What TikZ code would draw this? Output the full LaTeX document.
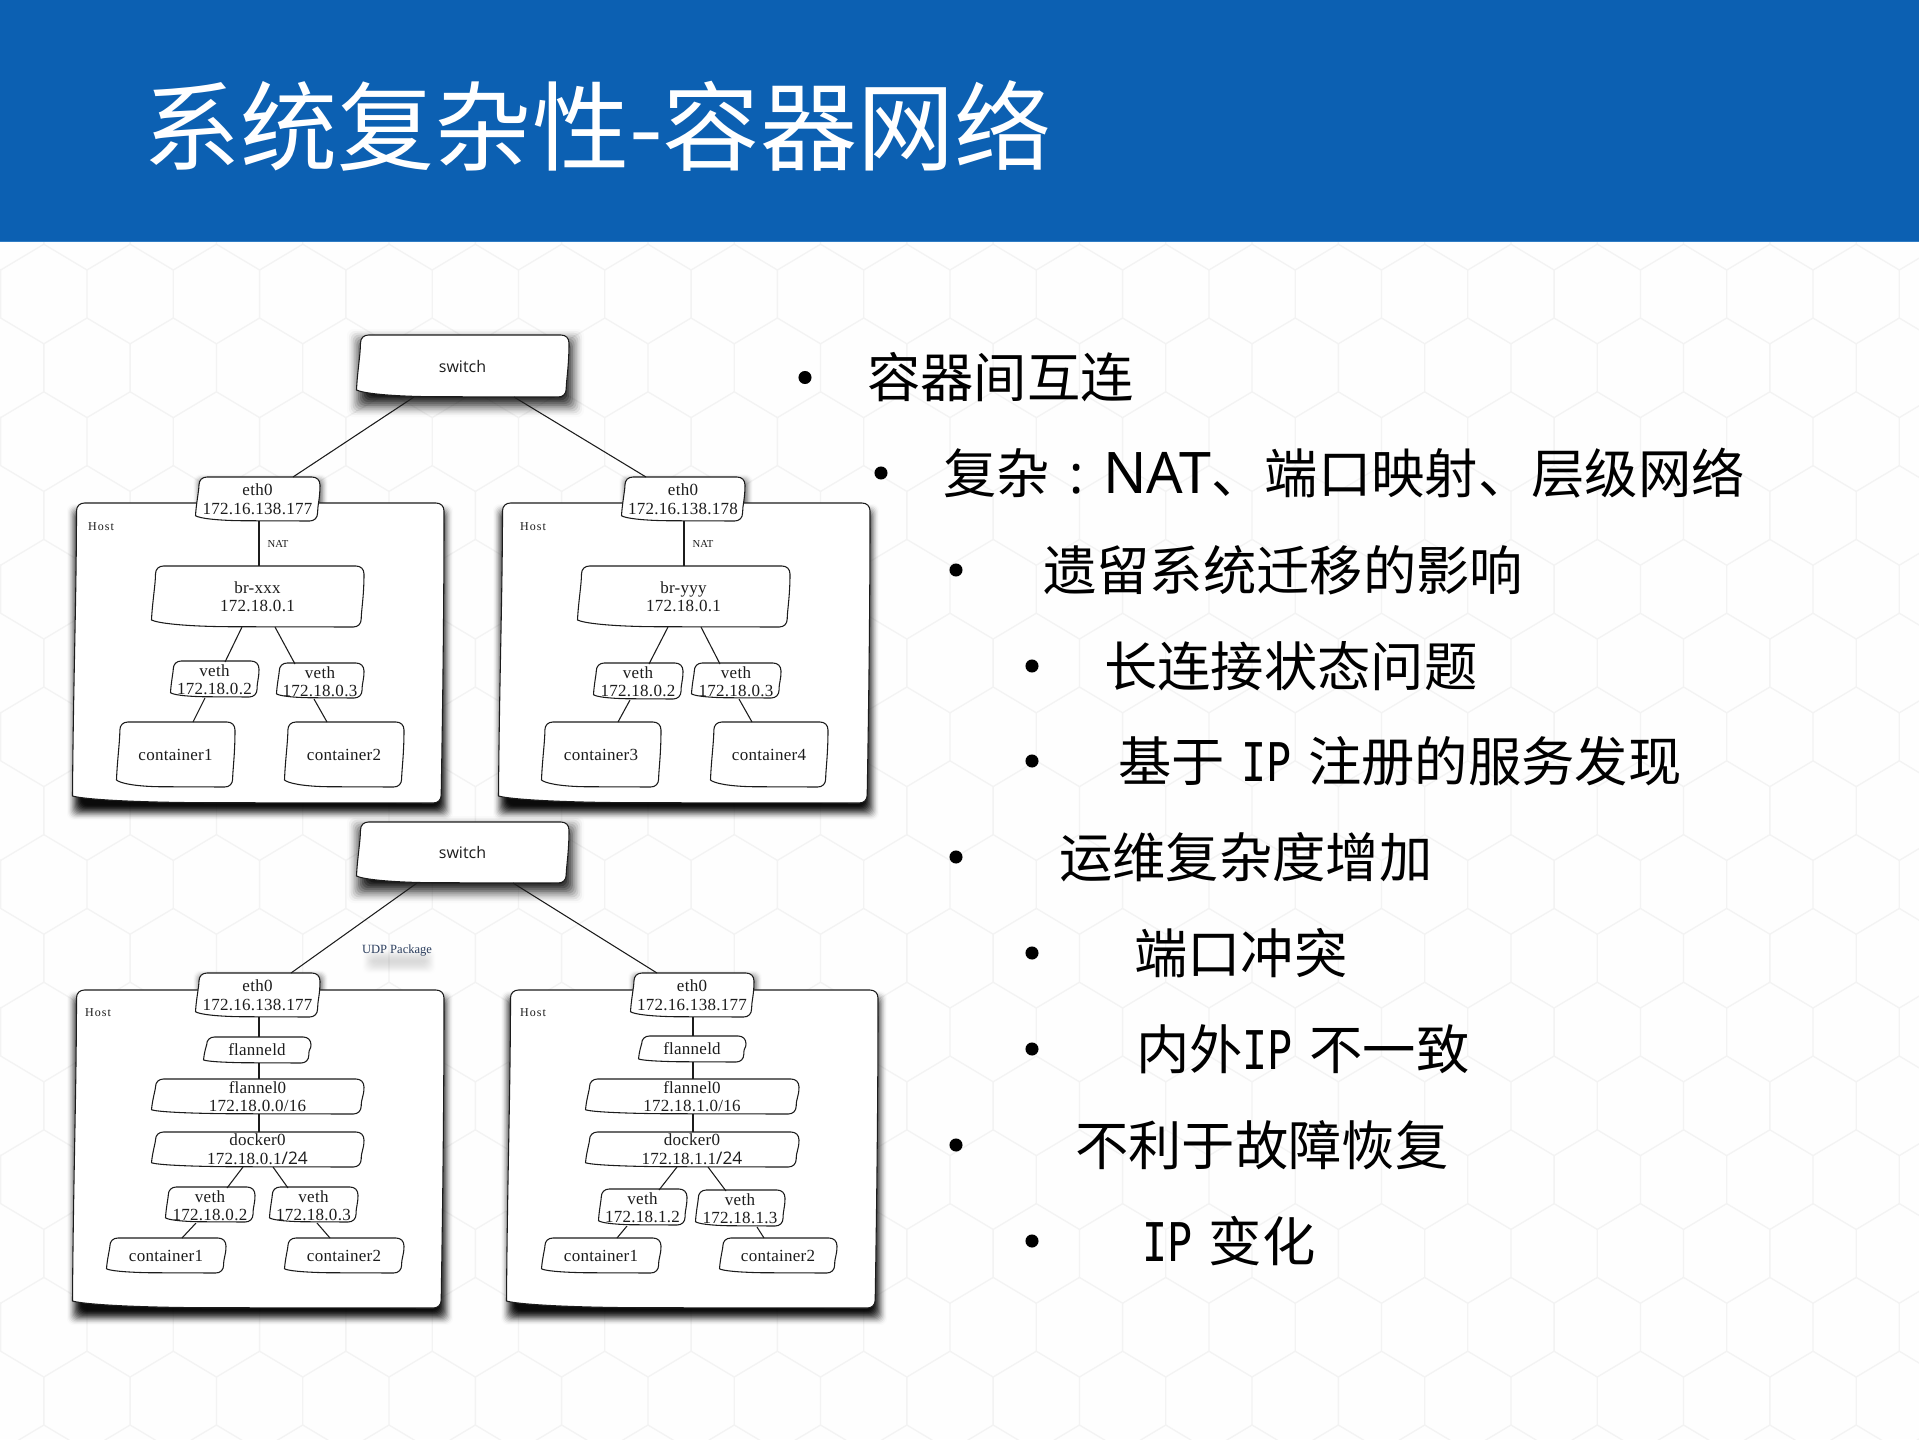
\documentclass[tikz,border=0pt]{standalone}
\usepackage{fontspec}
\usepackage{xcolor}
\setmainfont{Noto Sans CJK SC}
\newfontfamily\dgmf[LetterSpace=1.5]{Liberation Serif}
\newfontfamily\hostf[LetterSpace=9]{Liberation Serif}
\newfontfamily\natf{Liberation Serif}
\newfontfamily\swf{Open Sans}
\newfontfamily\latf{Noto Sans}
\newfontfamily\ipf[FakeStretch=0.78]{DejaVu Sans Mono}
\definecolor{headblue}{HTML}{0C60B2}
\definecolor{headline}{HTML}{2F7CC4}
\definecolor{hexline}{HTML}{F3F3F3}
\definecolor{pagebg}{HTML}{FEFEFE}
\definecolor{ink}{HTML}{1C1C1C}
\definecolor{udpblue}{HTML}{2B3E5E}
\newcommand\softshadow[8]{%
  \foreach \i in {1,...,14}{%
    \pgfmathsetmacro\ee{#7-2*#7*(\i-1)/14}%
    \pgfmathsetmacro\tp{(\i-1)/14}%
    \pgfmathsetmacro\tc{\i/14}%
    \pgfmathsetmacro\cprev{#8*\tp*\tp*(3-2*\tp)}%
    \pgfmathsetmacro\ccur{#8*\tc*\tc*(3-2*\tc)}%
    \pgfmathsetmacro\aa{1-(1-\ccur)/(1-\cprev)}%
    \fill[black,opacity=\aa,rounded corners=5pt] (#1+#5-\ee,#2+#6-\ee) rectangle (#3+#5+\ee,#4+#6+\ee);
  }}
\newcommand\paperbox[7][]{%
  \pgfmathsetmacro\xa{#3-1.5}\pgfmathsetmacro\ya{#4}\pgfmathsetmacro\xb{#5}\pgfmathsetmacro\yb{#6}%
  \pgfmathsetmacro\hh{\yb-\ya}\pgfmathsetmacro\ww{\xb-\xa}%
  \pgfmathsetmacro\lift{max(3,min(7,.12*\hh))}%
  \pgfmathsetmacro\lean{max(1.5,min(4,.02*\ww+1))}%
  \pgfmathsetmacro\rr{min(8,.3*\hh)}%
  \draw[paper] (\xa+\lean,\ya+\rr) .. controls (\xa+\lean,\ya+.4*\rr) and (\xa+\lean+.4*\rr,\ya) .. (\xa+\lean+\rr,\ya)
    -- (\xb-\rr,\ya) .. controls (\xb-.4*\rr,\ya) and (\xb,\ya+.4*\rr) .. (\xb,\ya+\rr)
    .. controls (\xb,\ya+.5*\hh) and (\xb-.7*\lean,\yb-2*\rr) .. (\xb-.7*\lean,\yb-\rr)
    .. controls (\xb-.7*\lean,\yb-.4*\rr) and (\xb-.7*\lean-.4*\rr,\yb) .. (\xb-.7*\lean-\rr,\yb)
    -- (\xa+.35*\ww,\yb-.3)
    .. controls (\xa+.15*\ww,\yb-.8) and (\xa+.03*\ww,\yb-.55*\lift) .. (\xa,\yb-\lift)
    .. controls (\xa+.2*\lean,\ya+.6*\hh) and (\xa+\lean,\ya+.3*\hh) .. cycle;
  \node[boxlabel,#1,minimum width=\ww*0.75pt,minimum height=\hh*0.75pt] (#2) at ({(#3+#5)/2-1},{(\ya+\yb)/2}) {#7};
}
\newcommand\wire[4]{\draw[wire] ([xshift=(#2+1)*0.75pt]#1.south) -- ([xshift=(#4+1)*0.75pt]#3.north);}
\newcommand\bulletitem[5]{%
  \node[bulletdot] (b#1) at (#2,#3) {};
  \node[itemtext] (t#1) at (#4,#3+20) {#5};}
\newcommand\ipt{{\ipf IP}}
\newcommand\wsp{ \hspace{3.5pt}}
\tikzset{
  x=0.75pt,y=-0.75pt,
  paper/.style={draw=ink,fill=white,line width=0.8pt,line join=round},
  wire/.style={draw=ink,line width=0.8pt},
  boxlabel/.style={inner sep=0pt,outer sep=0pt,align=center,text=ink,font=\dgmf\fontsize{12.75pt}{13.5pt}\selectfont},
  switchlabel/.style={font=\swf\fontsize{12pt}{14pt}\selectfont},
  wide/.style={font=\dgmf\fontsize{12.75pt}{14.3pt}\selectfont},
  vethlabel/.style={yshift=-0.75pt},
  hostlabel/.style={inner sep=0pt,text=ink,font=\hostf\fontsize{9pt}{10pt}\selectfont},
  natlabel/.style={inner sep=0pt,text=ink,font=\natf\fontsize{8pt}{9pt}\selectfont},
  udplabel/.style={inner sep=0pt,text=udpblue,font=\natf\fontsize{9.4pt}{10pt}\selectfont},
  bulletdot/.style={circle,fill=black,inner sep=0pt,minimum size=9.8pt},
  itemtext/.style={anchor=base west,inner sep=0pt,text=black,font=\fontsize{40pt}{44pt}\selectfont},
  titletext/.style={anchor=base west,inner sep=0pt,text=white,font=\fontsize{72.9pt}{80pt}\selectfont},
}
\begin{document}
\begin{tikzpicture}
\useasboundingbox (0,0) rectangle (1919,1439);
% page
\fill[pagebg] (0,0) rectangle (1919,1439);
\begin{scope}
  \clip (0,242) rectangle (1919,1439);
  \foreach \k in {-1,...,16}{
    \pgfmathsetmacro\rowT{270+73.8*\k}
    \pgfmathsetmacro\rowO{isodd(\k)?43.85:87}
    \foreach \j in {-1,...,22}{
      \pgfmathsetmacro\hx{\rowO+86.3*\j}
      \draw[hexline,line width=1pt,line join=round] (\hx,\rowT) -- (\hx,\rowT+48) -- (\hx+43.15,\rowT+73.8) -- (\hx+86.3,\rowT+48);
    }
  }
\end{scope}
\fill[headblue] (0,0) rectangle (1919,241);
\fill[headline] (0,240.5) rectangle (1919,241.5);
\node[titletext] (title) at (143,163.5) {系统复杂性-容器网络};
% upper diagram
\softshadow{358}{335}{569}{397}{2}{7}{13}{0.95}
\softshadow{197}{477}{320}{521}{2}{3}{6}{0.6}
\softshadow{623}{477}{745}{521}{2}{3}{6}{0.6}
\softshadow{74}{503}{444}{803}{1}{9}{8}{0.95}
\softshadow{500}{503}{870}{803}{1}{9}{8}{0.95}
\paperbox[switchlabel]{swA}{358}{335}{569}{397}{switch}
\paperbox{hostA1}{74}{503}{444}{803}{}
\paperbox{hostA2}{500}{503}{870}{803}{}
\paperbox[wide]{ethA1}{197}{477}{320}{521}{eth0\\172.16.138.177}
\paperbox[wide]{ethA2}{623}{477}{745}{521}{eth0\\172.16.138.178}
\paperbox{brA1}{153}{566}{364}{627}{br-xxx\\172.18.0.1}
\paperbox{brA2}{579}{566}{790}{627}{br-yyy\\172.18.0.1}
\paperbox[vethlabel]{vA1}{172}{661}{259}{697}{veth\\172.18.0.2}
\paperbox[vethlabel]{vA2}{278}{663}{364}{698}{veth\\172.18.0.3}
\paperbox[vethlabel]{vA3}{595}{663}{683}{699}{veth\\172.18.0.2}
\paperbox[vethlabel]{vA4}{693}{663}{781}{698}{veth\\172.18.0.3}
\paperbox{cA1}{118}{722}{235}{787}{container1}
\paperbox{cA2}{286}{722}{404}{787}{container2}
\paperbox{cA3}{543}{722}{661}{787}{container3}
\paperbox{cA4}{712}{722}{828}{787}{container4}
\node[hostlabel] (hlA1) at (101,527) {Host};
\node[hostlabel] (hlA2) at (533,527) {Host};
\node[natlabel] (natA1) at (278,544) {NAT};
\node[natlabel] (natA2) at (703,544) {NAT};
\wire{swA}{-49.5}{ethA1}{34.5}
\wire{swA}{50.5}{ethA2}{-38}
\wire{ethA1}{.5}{brA1}{.5}
\wire{ethA2}{0}{brA2}{-.5}
\wire{brA1}{-16.5}{vA1}{9.5}
\wire{brA1}{16.5}{vA2}{-26}
\wire{brA2}{-16.5}{vA3}{10}
\wire{brA2}{16.5}{vA4}{-17}
\wire{vA1}{-10.5}{cA1}{16.5}
\wire{vA2}{-7}{cA2}{-18}
\wire{vA3}{-9}{cA3}{16}
\wire{vA4}{2}{cA4}{-18}
% lower diagram
\softshadow{358}{822}{569}{883}{2}{7}{13}{0.95}
\softshadow{197}{973}{320}{1017}{2}{3}{6}{0.6}
\softshadow{632}{973}{754}{1017}{2}{3}{6}{0.6}
\softshadow{74}{990}{444}{1308}{1}{9}{8}{0.95}
\softshadow{508}{990}{878}{1308}{1}{9}{8}{0.95}
\softshadow{368}{954}{430}{968}{0}{0}{7}{0.13}
\paperbox[switchlabel]{swB}{358}{822}{569}{883}{switch}
\paperbox{hostB1}{74}{990}{444}{1308}{}
\paperbox{hostB2}{508}{990}{878}{1308}{}
\paperbox[wide]{ethB1}{197}{973}{320}{1017}{eth0\\172.16.138.177}
\paperbox[wide]{ethB2}{632}{973}{754}{1017}{eth0\\172.16.138.177}
\paperbox{flB1}{205}{1037}{311}{1063}{flanneld}
\paperbox{flB2}{640}{1036}{746}{1062}{flanneld}
\paperbox{fzB1}{153}{1079}{364}{1114}{flannel0\\172.18.0.0/16}
\paperbox{fzB2}{587}{1079}{799}{1114}{flannel0\\172.18.1.0/16}
\paperbox[wide]{dkB1}{153}{1132}{364}{1167}{docker0\\172.18.0.1{\swf\fontsize{13pt}{14pt}\selectfont/24}}
\paperbox[wide]{dkB2}{587}{1132}{799}{1167}{docker0\\172.18.1.1{\swf\fontsize{13pt}{14pt}\selectfont/24}}
\paperbox[vethlabel]{vB1}{167}{1187}{255}{1222}{veth\\172.18.0.2}
\paperbox[vethlabel]{vB2}{271}{1187}{358}{1222}{veth\\172.18.0.3}
\paperbox[vethlabel]{vB3}{600}{1189}{687}{1225}{veth\\172.18.1.2}
\paperbox[vethlabel]{vB4}{697}{1190}{785}{1226}{veth\\172.18.1.3}
\paperbox{cB1}{108}{1238}{226}{1273}{container1}
\paperbox{cB2}{286}{1238}{404}{1273}{container2}
\paperbox{cB3}{543}{1238}{661}{1273}{container1}
\paperbox{cB4}{721}{1238}{837}{1273}{container2}
\node[hostlabel] (hlB1) at (98,1013) {Host};
\node[hostlabel] (hlB2) at (533,1013) {Host};
\node[udplabel] (udp) at (397,950) {UDP Package};
\wire{swB}{-46.5}{ethB1}{32.5}
\wire{swB}{49.5}{ethB2}{-36}
\wire{ethB1}{.5}{flB1}{1}
\wire{ethB2}{0}{flB2}{0}
\wire{flB1}{1}{fzB1}{.5}
\wire{flB2}{0}{fzB2}{0}
\wire{fzB1}{.5}{dkB1}{.5}
\wire{fzB2}{0}{dkB2}{0}
\wire{dkB1}{-15.5}{vB1}{16}
\wire{dkB1}{14.5}{vB2}{-26.5}
\wire{dkB2}{-16}{vB3}{15.5}
\wire{dkB2}{15}{vB4}{-15}
\wire{vB1}{-15}{cB1}{15}
\wire{vB2}{2.5}{cB2}{-15}
\wire{vB3}{-16.5}{cB3}{15}
\wire{vB4}{16}{cB4}{-15}
% bullet list
\bulletitem{1}{805}{377.5}{867}{容器间互连}
\bulletitem{2}{881}{473}{943}{复杂\makebox[1em]{\latf :}{\latf\fontsize{43pt}{44pt}\selectfont NAT}、端口映射、层级网络}
\bulletitem{3}{956}{570}{1043}{遗留系统迁移的影响}
\bulletitem{4}{1032}{666}{1104}{长连接状态问题}
\bulletitem{5}{1032}{761}{1118}{基于\wsp\ipt\wsp 注册的服务发现}
\bulletitem{6}{956}{857}{1059}{运维复杂度增加}
\bulletitem{7}{1032}{953}{1134}{端口冲突}
\bulletitem{8}{1032}{1049}{1136}{内外\ipt\wsp 不一致}
\bulletitem{9}{956}{1145}{1075}{不利于故障恢复}
\bulletitem{10}{1032}{1241}{1142}{\ipt\wsp 变化}
\end{tikzpicture}
\end{document}
